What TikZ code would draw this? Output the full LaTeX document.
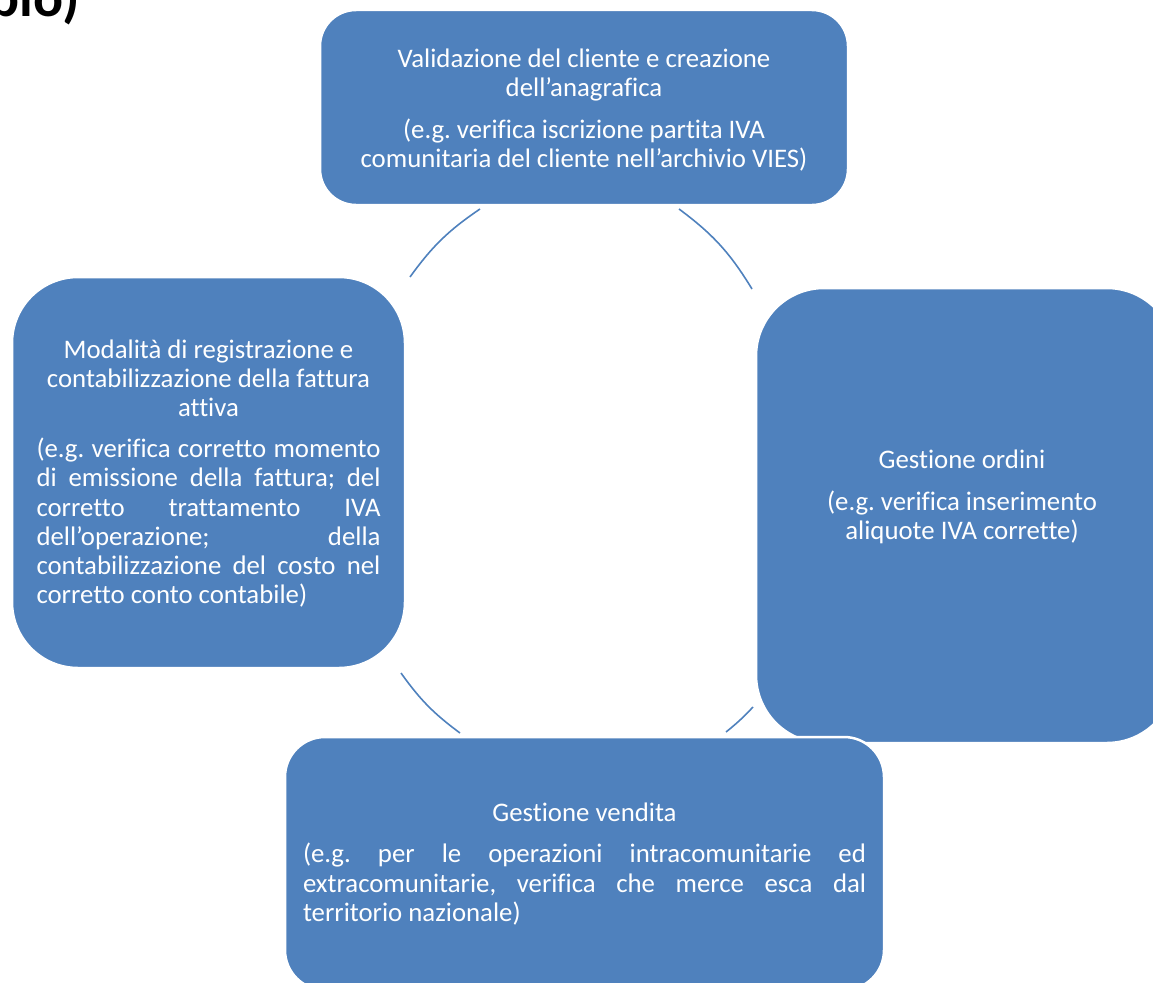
\documentclass[tikz,border=0pt]{standalone}
\usepackage{fontspec}
\setmainfont{Carlito}[Ligatures=CommonOff]
\definecolor{accent}{RGB}{79,129,189}
\hyphenpenalty=10000
\exhyphenpenalty=10000
\frenchspacing
\begin{document}
\begin{tikzpicture}[x=1pt,y=-1pt,
  box/.style={fill=accent, draw=white, line width=2.5pt, inner sep=0pt, outer sep=0pt},
  txt/.style={text=white, font=\fontsize{26.8}{29.2}\selectfont\frenchspacing, inner sep=0pt},
  link/.style={draw=accent, line width=1.6pt}]
\useasboundingbox (0,0) rectangle (1153,982);
\clip (0,0) rectangle (1153,982);

% title fragment
\node[anchor=base east, font=\fontsize{56}{64}\selectfont\bfseries, text=black, inner sep=0pt] (title) at (80,17) {pio)};

% boxes
\node[box, rounded corners=36pt, minimum width=528pt, minimum height=195pt] (topbox) at (584,107.5) {};
\node[box, rounded corners=66pt, minimum width=393pt, minimum height=391pt] (leftbox) at (208.5,472.5) {};
\node[box, rounded corners=68pt, minimum width=419pt, minimum height=455pt] (rightbox) at (965.5,515.5) {};
\node[box, rounded corners=40pt, minimum width=599pt, minimum height=253pt] (bottombox) at (584.5,863.5) {};

% texts
\node[txt, align=center] (toptext) at (584,110)
  {Validazione del cliente e creazione\\ dell’anagrafica\\[13pt]
   (e.g. verifica iscrizione partita IVA\\ comunitaria del cliente nell’archivio VIES)};

\node[txt, text width=344pt, align=justify] (lefttext) at (208.5,473.5)
  {{\centering Modalità di registrazione e\\ contabilizzazione della fattura\\ attiva\par}\vspace{12pt}%
   (e.g. verifica corretto momento\linebreak di emissione della fattura; del\linebreak
   corretto trattamento IVA\linebreak dell’operazione; della\linebreak
   contabilizzazione del costo nel\linebreak corretto conto contabile)};

\node[txt, align=center] (righttext) at (962,497)
  {Gestione ordini\\[12pt] (e.g. verifica inserimento\\ aliquote IVA corrette)};

\node[txt, text width=563pt, align=justify] (bottomtext) at (584.5,864)
  {{\centering Gestione vendita\par}\vspace{12pt}%
   (e.g. per le operazioni intracomunitarie ed\linebreak
   extracomunitarie, verifica che merce esca dal\linebreak territorio nazionale)};

% cycle arcs
\coordinate (a1s) at (410,277); \coordinate (a1e) at (480,209);
\coordinate (a2s) at (679,209); \coordinate (a2e) at (752,289);
\coordinate (a4s) at (753,707); \coordinate (a4e) at (726,732);
\coordinate (a3s) at (460,733); \coordinate (a3e) at (401,673);
\draw[link] (a1s) to[bend left=10] (a1e);
\draw[link] (a2s) to[bend left=11] (a2e);
\draw[link] (a4s) to[bend left=4] (a4e);
\draw[link] (a3s) to[bend left=9] (a3e);
\end{tikzpicture}
\end{document}
